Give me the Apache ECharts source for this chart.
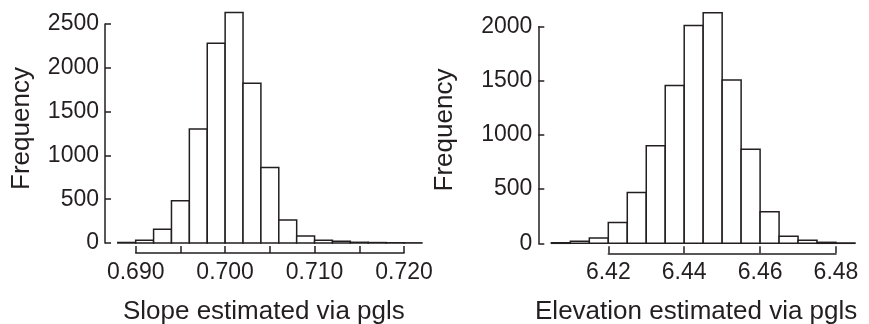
<!DOCTYPE html>
<html>
<head>
<meta charset="utf-8">
<script src="https://cdn.jsdelivr.net/npm/echarts@6/dist/echarts.min.js"></script>
<style>
html,body{margin:0;padding:0;background:#fff;}
#c{width:869px;height:324px;}
</style>
</head>
<body>
<div id="c"></div>
<script>
// Left histogram: slope estimates (bin lower edges, width 0.002)
var slopeBinStart = [0.688,0.690,0.692,0.694,0.696,0.698,0.700,0.702,0.704,0.706,0.708,0.710,0.712,0.714,0.716,0.718,0.720];
var slopeCounts   = [6,30,156,483,1300,2280,2630,1824,863,262,80,30,19,8,5,3,2];
var slopeBinWidth = 0.002;
var slopeXTicks = [0.690,0.700,0.710,0.720];

// Right histogram: elevation estimates (bin lower edges, width 0.005)
var elevBinStart = [6.405,6.410,6.415,6.420,6.425,6.430,6.435,6.440,6.445,6.450,6.455,6.460,6.465,6.470,6.475,6.480];
var elevCounts   = [5,18,49,193,470,900,1458,2011,2128,1507,869,292,64,28,9,3];
var elevBinWidth = 0.005;
var elevXTicks = [6.42,6.44,6.46,6.48];

var INK = '#231f20';
var FONT = 'Liberation Sans';

function toData(starts, counts, w){
  return starts.map(function(s,i){ return [s, s + w, counts[i]]; });
}
function renderBar(params, api){
  var p0 = api.coord([api.value(0), api.value(2)]);
  var p1 = api.coord([api.value(1), 0]);
  return {
    type: 'rect',
    shape: {x: p0[0], y: p0[1], width: p1[0]-p0[0], height: p1[1]-p0[1]},
    style: {fill: '#fff', stroke: INK, lineWidth: 1.5}
  };
}
function xLabelFmt(ticks, digits){
  return function(v){
    for (var i=0;i<ticks.length;i++){ if (Math.abs(v-ticks[i])<1e-9) return ticks[i].toFixed(digits); }
    return '';
  };
}
function yLabelFmt(v){ return String(v); }
var axisLine = {show:true, onZero:false, lineStyle:{color:INK, width:1.5}};
var axisTick = {show:true, inside:true, length:6, lineStyle:{color:INK, width:1.5}};
var labelStyle = {color:INK, fontFamily:FONT, fontSize:23};
function nameStyle(pad){ return {color:INK, fontFamily:FONT, fontSize:26, padding:pad}; }

var option = {
  animation:false,
  grid:[
    {left:135.7, top:24, width:268.3, height:219, outerBoundsMode:'none'},
    {left:608.3, top:26.7, width:227.7, height:216.6, outerBoundsMode:'none'}
  ],
  xAxis:[
    {gridIndex:0, type:'value', min:0.690, max:0.720, interval:0.005, offset:10,
     axisLine:axisLine, axisTick:Object.assign({}, axisTick, {length:7}), splitLine:{show:false},
     axisLabel:Object.assign({margin:8, showMinLabel:true, showMaxLabel:true, formatter:xLabelFmt(slopeXTicks,3)}, labelStyle),
     name:'Slope estimated via pgls', nameLocation:'middle', nameGap:46, nameTextStyle:nameStyle([0,12,0,0])},
    {gridIndex:1, type:'value', min:6.42, max:6.48, interval:0.02, offset:10,
     axisLine:axisLine, axisTick:Object.assign({}, axisTick, {length:7}), splitLine:{show:false},
     axisLabel:Object.assign({margin:8, showMinLabel:true, showMaxLabel:true, formatter:xLabelFmt(elevXTicks,2)}, labelStyle),
     name:'Elevation estimated via pgls', nameLocation:'middle', nameGap:46, nameTextStyle:nameStyle([0,52,0,0])}
  ],
  yAxis:[
    {gridIndex:0, type:'value', min:0, max:2500, interval:500, offset:30.7,
     axisLine:axisLine, axisTick:axisTick, splitLine:{show:false},
     axisLabel:Object.assign({margin:6, formatter:yLabelFmt}, labelStyle),
     name:'Frequency', nameLocation:'middle', nameGap:70, nameTextStyle:nameStyle([0,0,0,10])},
    {gridIndex:1, type:'value', min:0, max:2000, interval:500, offset:70,
     axisLine:axisLine, axisTick:axisTick, splitLine:{show:false},
     axisLabel:Object.assign({margin:6, formatter:yLabelFmt}, labelStyle),
     name:'Frequency', nameLocation:'middle', nameGap:80, nameTextStyle:nameStyle([0,0,0,10])}
  ],
  series:[
    {type:'custom', xAxisIndex:0, yAxisIndex:0, clip:false, renderItem:renderBar,
     encode:{x:[0,1], y:2}, data:toData(slopeBinStart, slopeCounts, slopeBinWidth)},
    {type:'custom', xAxisIndex:1, yAxisIndex:1, clip:false, renderItem:renderBar,
     encode:{x:[0,1], y:2}, data:toData(elevBinStart, elevCounts, elevBinWidth)}
  ]
};
var chart = echarts.init(document.getElementById('c'), null, {renderer:'canvas'});
chart.setOption(option);
</script>
</body>
</html>
